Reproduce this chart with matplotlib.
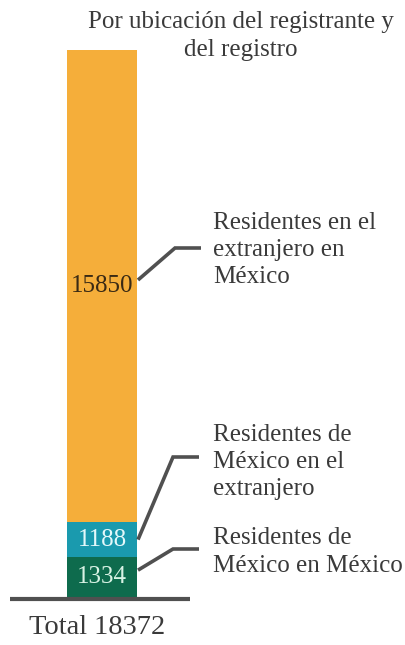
import matplotlib
matplotlib.use("Agg")
import matplotlib.pyplot as plt

# Data
categories = ["Residentes de\nMéxico en México",
              "Residentes de\nMéxico en el\nextranjero",
              "Residentes en el\nextranjero en\nMéxico"]
values = [1334, 1188, 15850]
colors = ["#0e6b4d", "#1a9aae", "#f5ae3a"]
value_colors = ["#d8f2e4", "#e4f8fa", "#3a2a14"]
total = sum(values)
title = "Por ubicación del registrante y\ndel registro"

W, H = 406, 645
fig = plt.figure(figsize=(W / 100, H / 100), dpi=100)
plt.rcParams["font.family"] = ["Liberation Serif", "DejaVu Serif"]

# bar axes: bottom at pixel 597, top at pixel 50
ax = fig.add_axes([0, (H - 597) / H, 1, (597 - 50) / H])
ax.set_xlim(0, W)
ax.set_ylim(0, total)
ax.axis("off")

# overlay axes in pixel coordinates (y downward)
ov = fig.add_axes([0, 0, 1, 1], zorder=5)
ov.set_xlim(0, W)
ov.set_ylim(H, 0)
ov.axis("off")
ov.patch.set_alpha(0)

bar_x, bar_w = 102, 70
bottoms = [sum(values[:i]) for i in range(len(values))]
ax.bar([bar_x] * len(values), values, width=bar_w, bottom=bottoms,
       color=colors, edgecolor="none", zorder=2)

def to_px(x, y):
    d = ax.transData.transform((x, y))
    return ov.transData.inverted().transform(d)

# value labels
for v, b, c in zip(values, bottoms, value_colors):
    ax.text(bar_x, b + v / 2, str(v), ha="center", va="center",
            fontsize=18, color=c, zorder=3)

# leader lines and labels
elbows = [(173, 549), (173, 457), (175, 248)]
text_pos = [(213, 552), (213, 462), (213, 250)]
starts_offset = [235, 0, 200]
for i, (v, b) in enumerate(zip(values, bottoms)):
    sx, sy = to_px(bar_x + bar_w / 2, b + v / 2 + starts_offset[i])
    ex, ey = elbows[i]
    ov.plot([sx + 1, ex, ex + 26], [sy, ey, ey], color="#505050", lw=2.6,
            solid_capstyle="butt", solid_joinstyle="miter")
    tx, ty = text_pos[i]
    ov.text(tx, ty, categories[i], ha="left", va="center", fontsize=18,
            color="#3a3a3a", linespacing=1.3)

# baseline
ov.plot([10, 190], [599, 599], color="#505050", lw=3, solid_capstyle="butt")

# title and total
ov.text(241, 36, title, ha="center", va="center", fontsize=18,
        color="#3a3a3a", linespacing=1.3)
ov.text(97, 628, f"Total {total}", ha="center", va="center", fontsize=20.5,
        color="#3a3a3a")

fig.savefig("out.png", dpi=100)
